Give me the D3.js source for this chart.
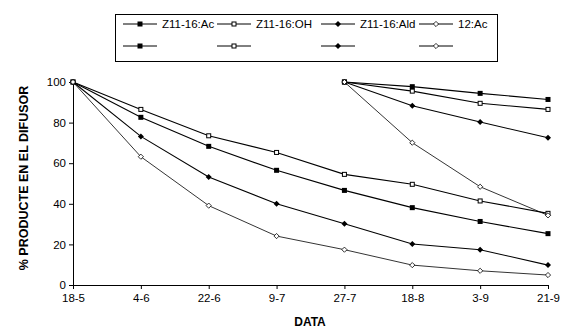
<!DOCTYPE html>
<html><head><meta charset="utf-8">
<script src="https://cdn.jsdelivr.net/npm/d3@7"></script>
<style>body{margin:0;background:#fff}svg{display:block}text{font-family:Arial,"Liberation Sans",sans-serif}</style>
</head><body>
<svg id="c" width="585" height="333"></svg>
<script>
const categories = ["18-5","4-6","22-6","9-7","27-7","18-8","3-9","21-9"];
const yTicks = [0,20,40,60,80,100];
const seriesNames = ["Z11-16:Ac","Z11-16:OH","Z11-16:Ald","12:Ac","","","",""];
const markerTypes = ["sqFill","sqOpen","diaFill","diaOpen","sqFill","sqOpen","diaFill","diaOpen"];
const s1 = [100,82.6,68.3,56.5,46.6,38.1,31.3,25.3];
const s2 = [100,86.5,73.5,65.3,54.5,49.6,41.4,35.3];
const s3 = [100,73.2,53.2,40.0,30.2,20.2,17.4,9.8];
const s4 = [100,63.2,39.1,24.1,17.4,9.8,7.0,4.9];
const s5 = [null,null,null,null,100,97.7,94.4,91.4];
const s6 = [null,null,null,null,100,95.5,89.5,86.5];
const s7 = [null,null,null,null,100,88.3,80.3,72.5];
const s8 = [null,null,null,null,100,70.1,48.4,34.3];
const allSeries = [s1,s2,s3,s4,s5,s6,s7,s8];

const svg = d3.select("#c");
const x = d3.scalePoint().domain(categories).range([73,548]);
const y = d3.scaleLinear().domain([0,100]).range([285,82]);

const gy = svg.append("g").attr("transform","translate(73,0)")
  .call(d3.axisLeft(y).tickValues(yTicks).tickSize(4).tickPadding(3).tickSizeOuter(0));
const gx = svg.append("g").attr("transform","translate(0,285)")
  .call(d3.axisBottom(x).tickSize(4).tickPadding(5).tickSizeOuter(0));
[gx,gy].forEach(g=>{
  g.select(".domain").attr("stroke","#000").attr("stroke-width",1);
  g.selectAll(".tick line").attr("stroke","#000");
  g.selectAll(".tick text").attr("fill","#000").style("font-size","11.5px");
});

function marker(sel, type){
  sel.each(function(){
    const g = d3.select(this);
    if(type==="sqFill") g.append("rect").attr("x",-2.5).attr("y",-2.5).attr("width",5).attr("height",5).attr("fill","#000");
    else if(type==="sqOpen") g.append("rect").attr("x",-2).attr("y",-2).attr("width",4).attr("height",4).attr("fill","#fff").attr("stroke","#000").attr("stroke-width",1);
    else if(type==="diaFill") g.append("path").attr("d","M0,-3L3,0L0,3L-3,0Z").attr("fill","#000");
    else g.append("path").attr("d","M0,-2.6L2.6,0L0,2.6L-2.6,0Z").attr("fill","#fff").attr("stroke","#000").attr("stroke-width",0.8);
  });
}

const line = d3.line().defined(d=>d.v!==null).x(d=>x(d.c)).y(d=>y(d.v));
allSeries.forEach((s,i)=>{
  const pts = s.map((v,j)=>({c:categories[j],v}));
  svg.append("path").datum(pts).attr("d",line).attr("fill","none")
    .attr("stroke","#000").attr("stroke-width", i%4===3 ? 0.8 : 1.1);
});
allSeries.forEach((s,i)=>{
  const pts = s.map((v,j)=>({c:categories[j],v})).filter(d=>d.v!==null);
  svg.append("g").selectAll("g").data(pts).join("g")
    .attr("transform",d=>`translate(${x(d.c)},${y(d.v)})`)
    .call(marker, markerTypes[i]);
});

const leg = svg.append("g");
leg.append("rect").attr("x",115.5).attr("y",14.5).attr("width",382).attr("height",47)
  .attr("fill","#fff").attr("stroke","#000");
const colX = [123,217,321,419];
const rowY = [24,46];
seriesNames.forEach((name,i)=>{
  const cx = colX[i%4], cy = rowY[Math.floor(i/4)];
  leg.append("line").attr("x1",cx).attr("x2",cx+34).attr("y1",cy).attr("y2",cy).attr("stroke","#000");
  leg.append("g").attr("transform",`translate(${cx+17},${cy})`).call(marker, markerTypes[i]);
  if(name) leg.append("text").attr("x",cx+39).attr("y",cy+4).style("font-size","11.5px").text(name);
});

svg.append("text").attr("transform","translate(28,178) rotate(-90)").attr("text-anchor","middle")
  .style("font-size","12.5px").style("font-weight","bold").text("% PRODUCTE EN EL DIFUSOR");
svg.append("text").attr("x",310).attr("y",326).attr("text-anchor","middle")
  .style("font-size","12px").style("font-weight","bold").text("DATA");
</script>
</body></html>
